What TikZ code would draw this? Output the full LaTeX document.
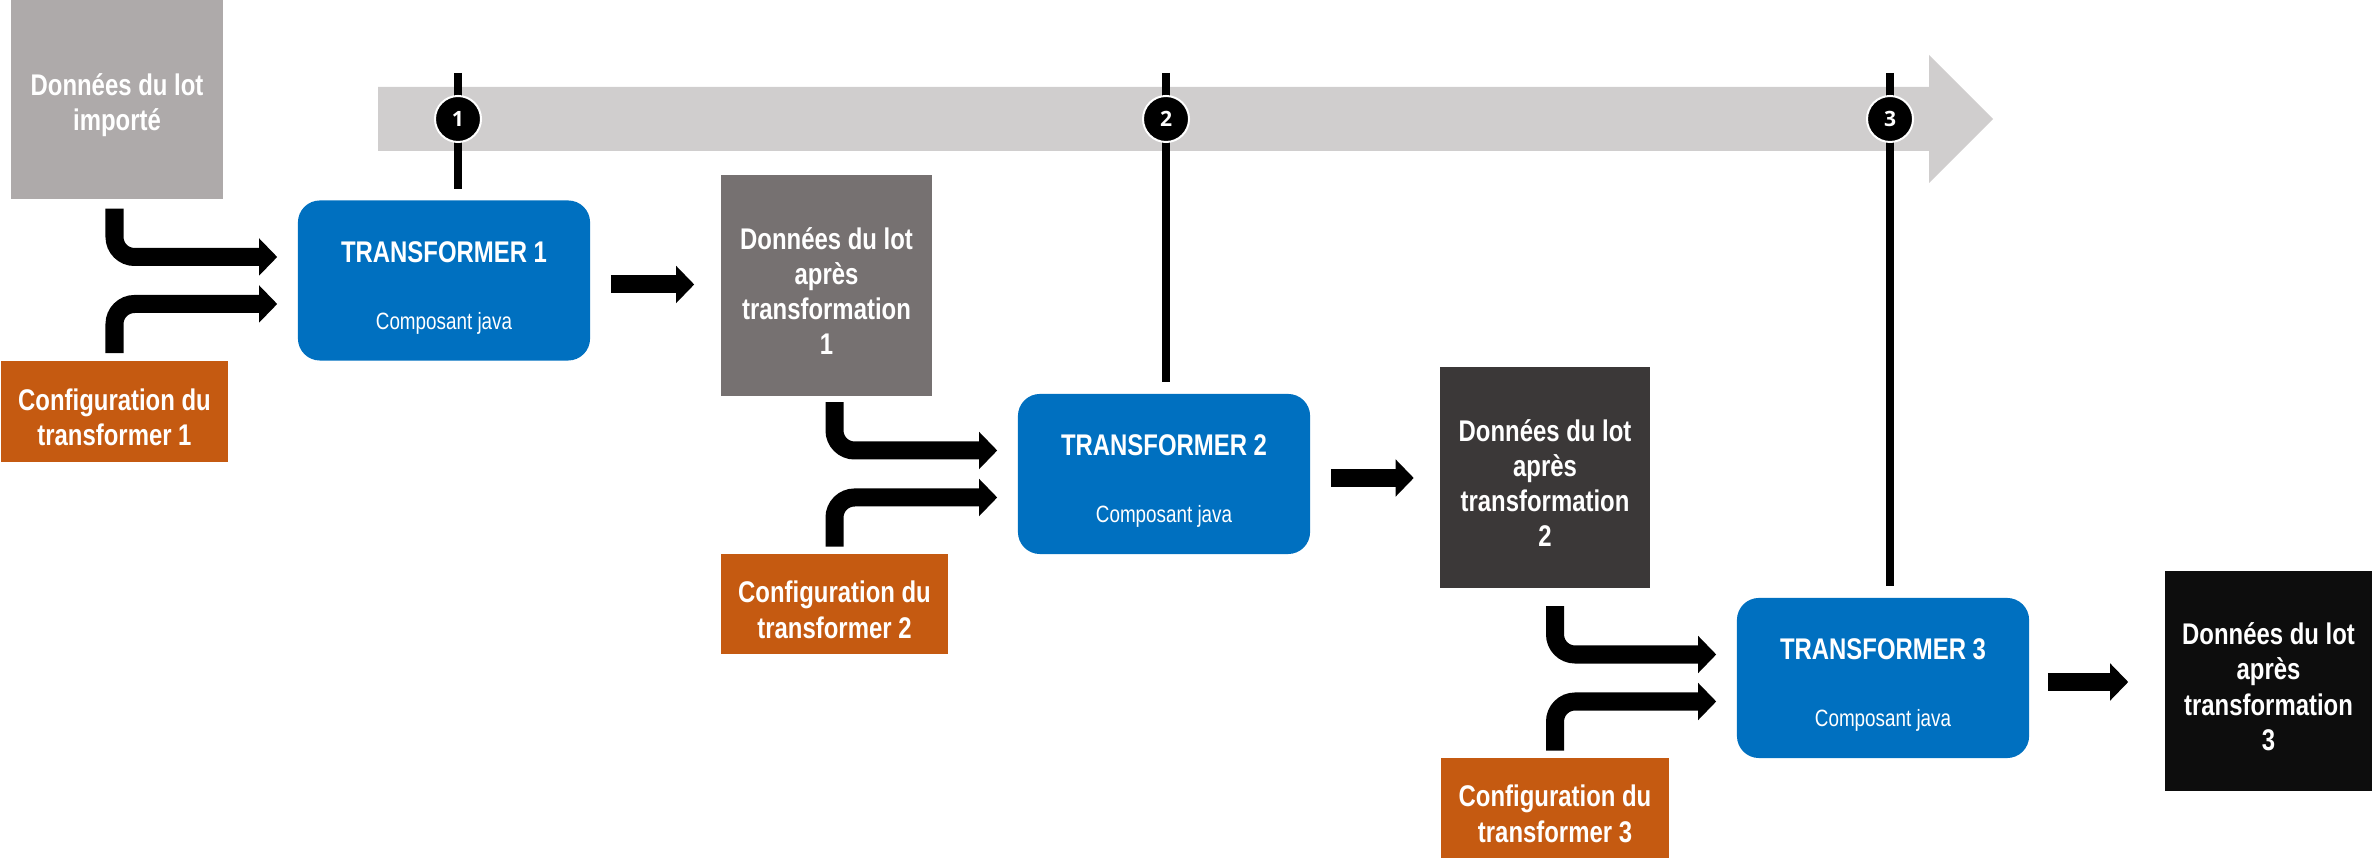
\documentclass[tikz,border=0pt]{standalone}
\usepackage{fontspec}
\setmainfont{Liberation Sans}[FakeStretch=0.8]
\newfontfamily\markfont{Open Sans}
\usetikzlibrary{arrows.meta,calc}
\definecolor{lotA}{HTML}{AEAAAA}
\definecolor{lotB}{HTML}{767171}
\definecolor{lotC}{HTML}{3B3838}
\definecolor{lotD}{HTML}{0D0D0D}
\definecolor{trfblue}{HTML}{0070C0}
\definecolor{cfgorange}{HTML}{C55A11}
\definecolor{timegray}{HTML}{D0CECE}
\newcommand{\boxfont}{\fontsize{8.5}{10}\selectfont\bfseries}
\newcommand{\subfont}{\fontsize{6.7}{8}\selectfont\mdseries}
\newcommand{\lotstrut}{\rule{0pt}{9.5pt}}

\begin{document}
\begin{tikzpicture}[x=0.01cm,y=-0.01cm,
    lot/.style={rectangle,inner sep=0pt,text=white,align=center,font=\boxfont},
    trf/.style={rectangle,rounded corners=0.22cm,fill=trfblue,inner sep=0pt,minimum width=2.92cm,minimum height=1.6cm,text=white,align=center,font=\boxfont},
    cfg/.style={lot,fill=cfgorange,minimum width=2.27cm,minimum height=1cm},
    flow/.style={line width=0.18cm,-{Triangle[length=0.18cm,width=0.36cm]},rounded corners=0.2cm},
    tick/.style={line width=0.087cm,shorten >=0.11cm},
    stepmark/.style={circle,fill=black,draw=white,line width=0.02cm,minimum size=0.46cm,inner sep=0pt,text=white,font=\markfont\bfseries\fontsize{6}{7}\selectfont}]
      \useasboundingbox (0,0) rectangle (2380,862);

      \fill[timegray] (378,87) -- (1929,87) -- (1929,55) -- (1993,119) -- (1929,183) -- (1929,151) -- (378,151) -- cycle;

      \node[lot,fill=lotA,minimum width=2.12cm,minimum height=1.99cm] (lot0) at (117,99.5) {\lotstrut Données du lot\\importé};
      \node[lot,fill=lotB,minimum width=2.11cm,minimum height=2.21cm] (lot1) at (826.5,285.5) {\lotstrut Données du lot\\après\\transformation\\1};
      \node[lot,fill=lotC,minimum width=2.09cm,minimum height=2.21cm] (lot2) at (1545,477.5) {\lotstrut Données du lot\\après\\transformation\\2};
      \node[lot,fill=lotD,minimum width=2.07cm,minimum height=2.2cm] (lot3) at (2268.5,681) {\lotstrut Données du lot\\après\\transformation\\3};

      \node[trf] (trf1) at (444,280.5) {\rule{0pt}{10pt}TRANSFORMER 1\\[9pt]{\subfont Composant java}};
      \node[trf] (trf2) at (1164,474) {\rule{0pt}{10pt}TRANSFORMER 2\\[9pt]{\subfont Composant java}};
      \node[trf] (trf3) at (1883,678) {\rule{0pt}{10pt}TRANSFORMER 3\\[9pt]{\subfont Composant java}};

      \node[cfg] (cfg1) at (114.5,411.5) {\lotstrut Configuration du\\transformer 1};
      \node[cfg] (cfg2) at (834.5,604) {\lotstrut Configuration du\\transformer 2};
      \node[cfg] (cfg3) at (1555,808) {\lotstrut Configuration du\\transformer 3};

      \coordinate (tick1) at (458,73);
      \coordinate (tick2) at (1166,73);
      \coordinate (tick3) at (1890,73);
      \draw[tick] (tick1) -- (tick1 |- trf1.north);
      \draw[tick] (tick2) -- (tick2 |- trf2.north);
      \draw[tick] (tick3) -- (tick3 |- trf3.north);
      \node[stepmark] (mark1) at (458,119) {1};
      \node[stepmark] (mark2) at (1166,119) {2};
      \node[stepmark] (mark3) at (1890,119) {3};

      \draw[flow] ($(cfg1 |- trf1.north)+(0,9)$) |- ($(trf1.west)+(-20,-23.5)$);
      \draw[flow] ($(cfg1 |- trf1.south)+(0,-8)$) |- ($(trf1.west)+(-20,23.5)$);
      \draw[flow] ($(cfg2 |- trf2.north)+(0,9)$) |- ($(trf2.west)+(-20,-23.5)$);
      \draw[flow] ($(cfg2 |- trf2.south)+(0,-8)$) |- ($(trf2.west)+(-20,23.5)$);
      \draw[flow] ($(cfg3 |- trf3.north)+(0,9)$) |- ($(trf3.west)+(-20,-23.5)$);
      \draw[flow] ($(cfg3 |- trf3.south)+(0,-8)$) |- ($(trf3.west)+(-20,23.5)$);

      \draw[flow,shorten <=0.2cm,shorten >=0.26cm] ($(trf1.east)+(0,4)$) -- ($(trf1.east -| lot1.west)+(0,4)$);
      \draw[flow,shorten <=0.2cm,shorten >=0.26cm] ($(trf2.east)+(0,4)$) -- ($(trf2.east -| lot2.west)+(0,4)$);
      \draw[flow,shorten <=0.18cm,shorten >=0.36cm] ($(trf3.east)+(0,4)$) -- ($(trf3.east -| lot3.west)+(0,4)$);
    \end{tikzpicture}
\end{document}
